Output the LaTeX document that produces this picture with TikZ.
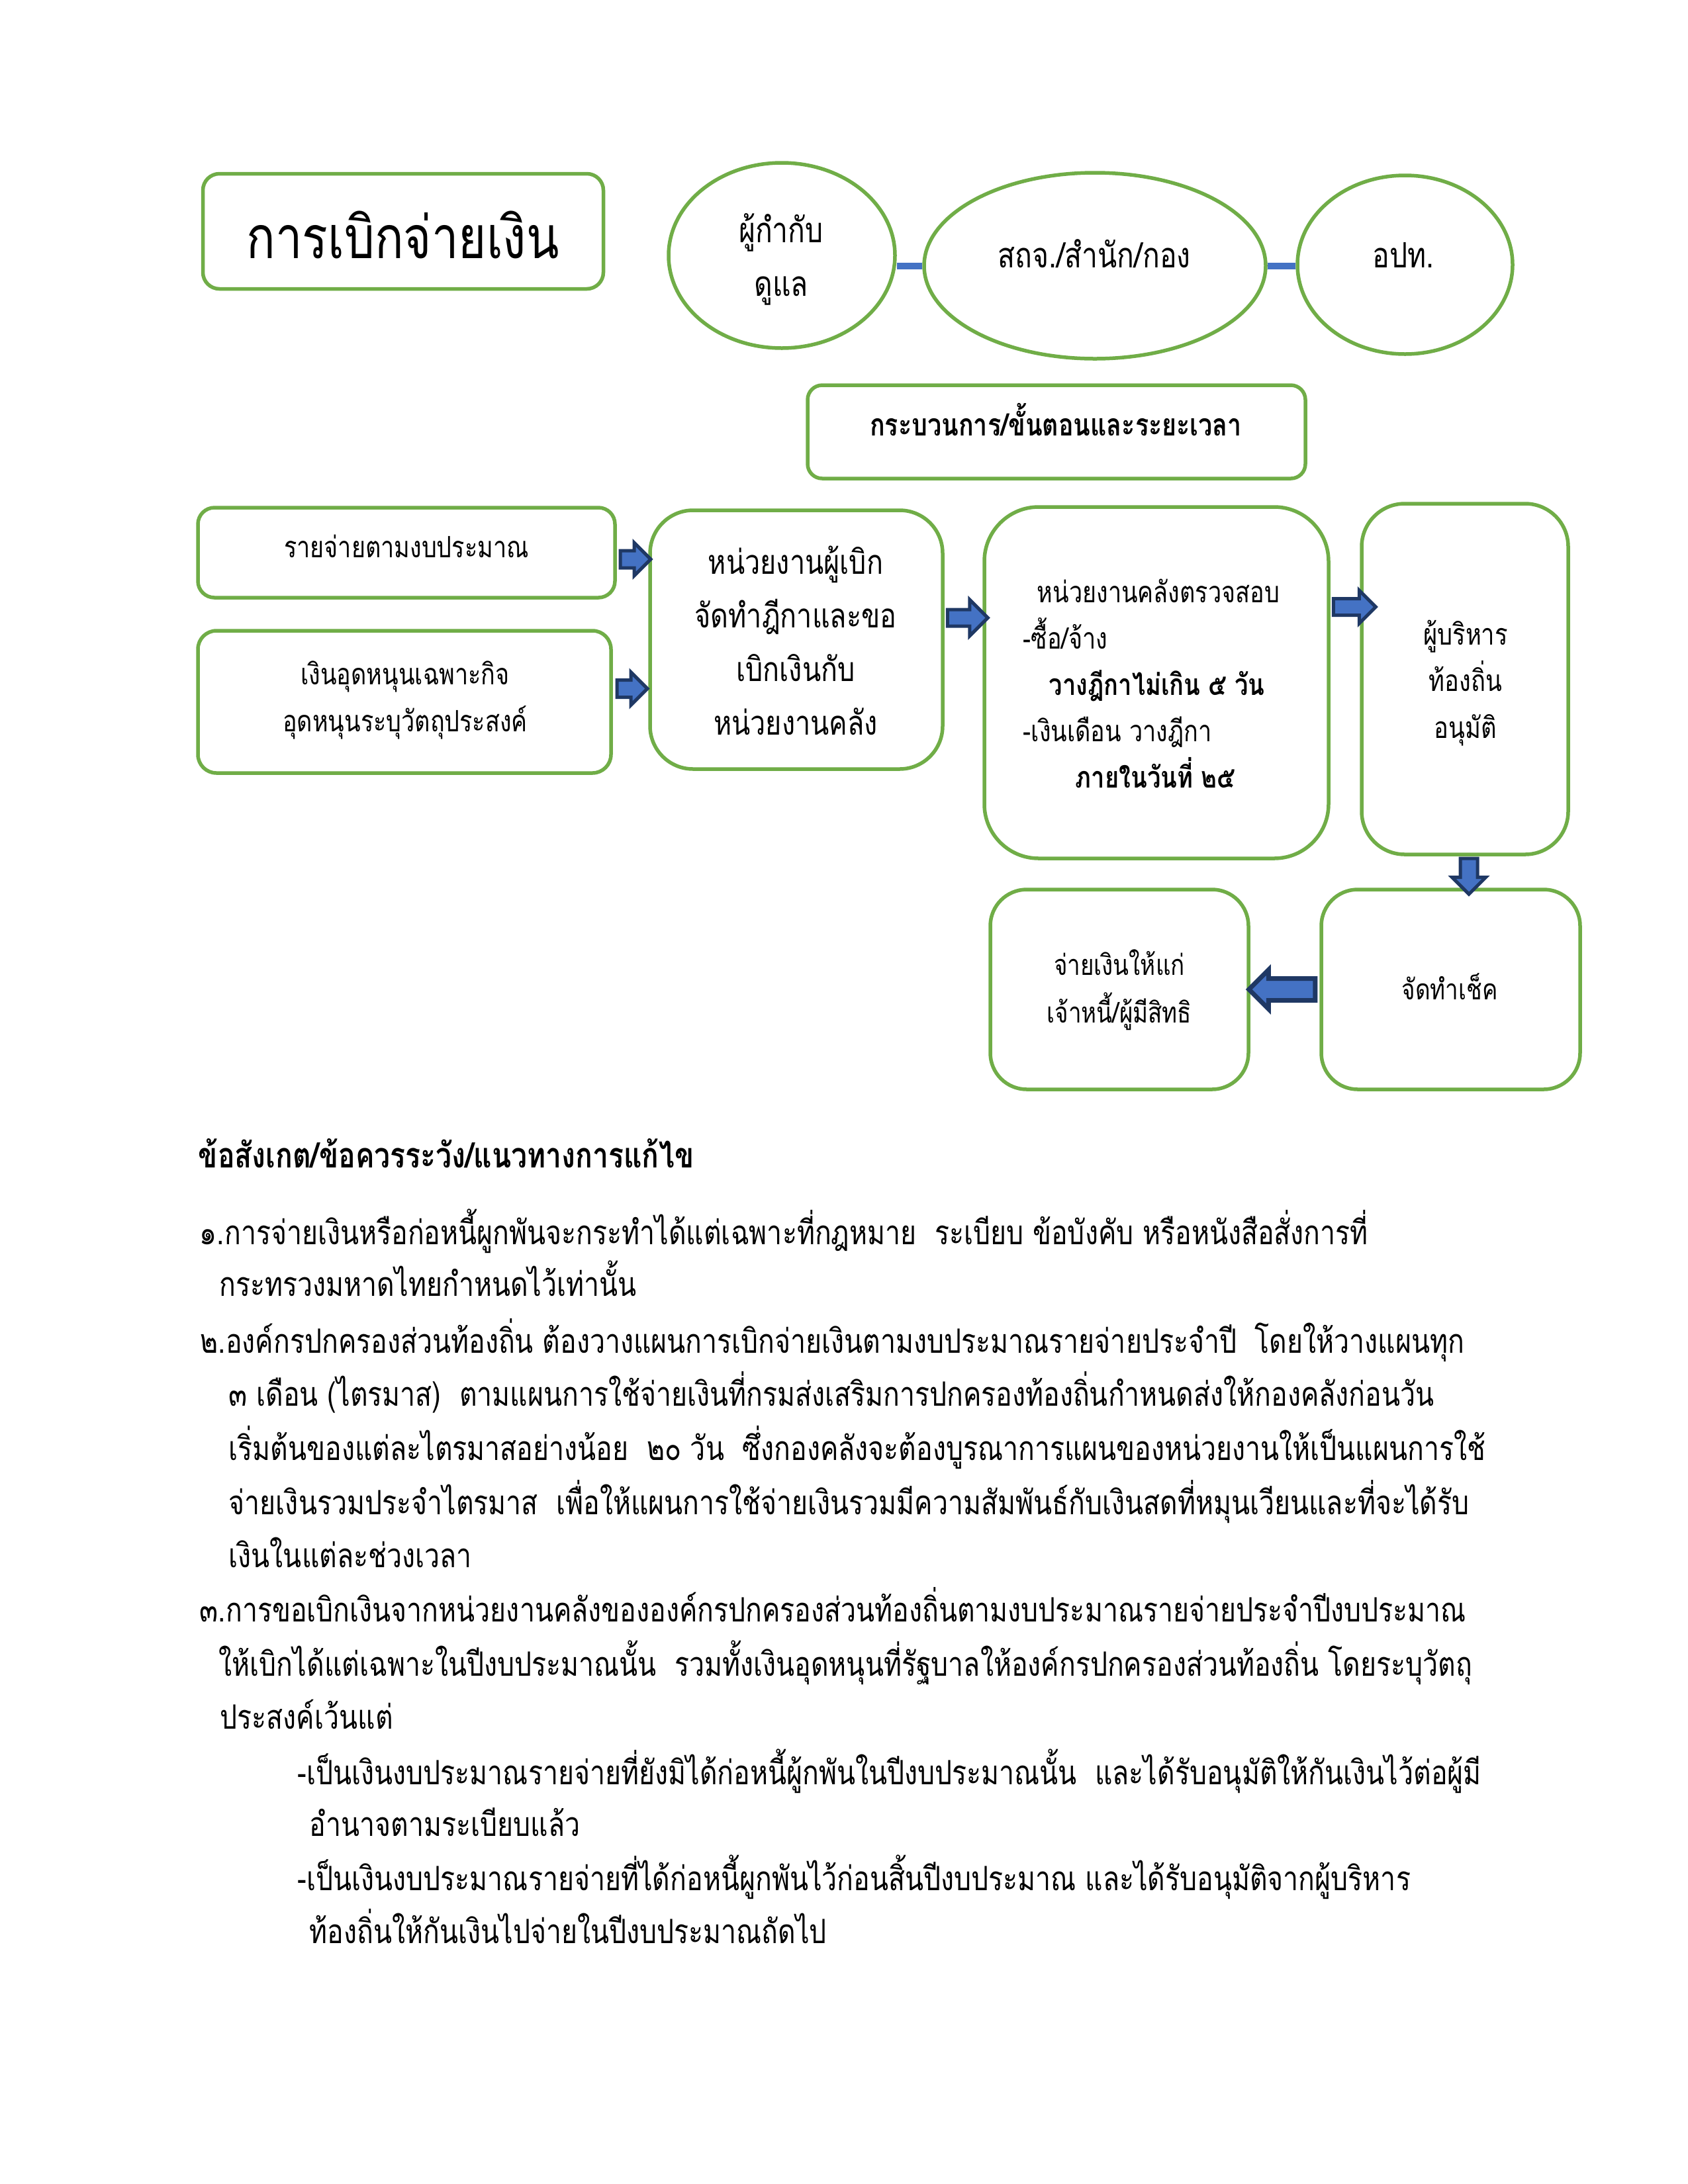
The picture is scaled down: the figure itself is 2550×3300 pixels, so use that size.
\documentclass[tikz,border=0pt]{standalone}
\usepackage{fontspec}
\setmainfont[Script=Thai,FakeStretch=0.81]{Loma}
\usetikzlibrary{shapes.arrows,shapes.geometric,calc}
\definecolor{grn}{HTML}{70AD47}
\definecolor{ablue}{HTML}{4472C4}
\definecolor{anavy}{HTML}{1F3864}
\newcommand\pxl[1]{#1*0.2409pt}
\tikzset{
  gbox/.style={draw=grn, line width=\pxl{5.5}, fill=white, inner sep=0pt},
  gell/.style={ellipse, draw=grn, line width=\pxl{5.5}, fill=white, inner sep=0pt},
  bar/.style={draw=ablue, line width=\pxl{10}},
  barrow/.style={single arrow, draw=anavy, fill=ablue, line width=\pxl{5}, inner xsep=0pt, single arrow tip angle=90},
  tbody/.style={font=\fontsize{12.2}{19.5}\selectfont, inner sep=0pt, anchor=base west},
  tbodyb/.style={font=\fontsize{12.7}{19.5}\selectfont\bfseries, inner sep=0pt, anchor=base west},
  tbig/.style={font=\fontsize{12.7}{19.3}\selectfont, inner sep=0pt, anchor=base, align=center},
  tbox/.style={font=\fontsize{10.7}{16.9}\selectfont, inner sep=0pt, anchor=base, align=center},
  tboxl/.style={font=\fontsize{10.7}{16}\selectfont, inner sep=0pt, anchor=base west},
  tboxb/.style={font=\fontsize{10.8}{16}\selectfont\bfseries, inner sep=0pt, anchor=base west},
}
\begin{document}
\begin{tikzpicture}[x=0.2409pt,y=-0.2409pt]
\fill[white] (0,0) rectangle (2550,3300);
\path[use as bounding box] (0,0) rectangle (2550,3300);

% top row
\node[gbox, rounded corners=\pxl{25}, minimum width=\pxl{605}, minimum height=\pxl{174}] (title) at (609,349.5) {};
\node[font=\fontsize{21.5}{26}\selectfont, inner sep=0pt, anchor=base] (titlet) at (608.5,390) {การเบิกจ่ายเงิน};

\node[gell, minimum width=\pxl{342}, minimum height=\pxl{280}] (e1) at (1181,386) {};
\node[gell, minimum width=\pxl{516}, minimum height=\pxl{281}] (e2) at (1654,401.5) {};
\node[gell, minimum width=\pxl{325}, minimum height=\pxl{270}] (e3) at (2122.5,400) {};
\draw[bar] (e2.west -| e1.east) -- (e2.west);
\draw[bar] (e2.east) -- (e2.east -| e3.west);
\node[tbig] (e1t) at (1180,447) {ผู้กำกับ\\ดูแล};
\node[tbig] (e2t) at (1653,404) {สถจ./สำนัก/กอง};
\node[tbig] (e3t) at (2120,404) {อปท.};

\node[gbox, rounded corners=\pxl{22}, minimum width=\pxl{752}, minimum height=\pxl{141}] (proc) at (1596,652.5) {};
\node[font=\fontsize{11.2}{16}\selectfont\bfseries, inner sep=0pt, anchor=base] (proct) at (1595,658) {กระบวนการ/ขั้นตอนและระยะเวลา};

% flow boxes
\node[gbox, rounded corners=\pxl{25}, minimum width=\pxl{630}, minimum height=\pxl{136}] (b1) at (614,835) {};
\node[gbox, rounded corners=\pxl{28}, minimum width=\pxl{624}, minimum height=\pxl{215}] (b2) at (611,1060.5) {};
\node[gbox, rounded corners=\pxl{65}, minimum width=\pxl{442}, minimum height=\pxl{391}] (b3) at (1203,966.5) {};
\node[gbox, rounded corners=\pxl{82}, minimum width=\pxl{520}, minimum height=\pxl{531}] (b4) at (1747,1031.5) {};
\node[gbox, rounded corners=\pxl{65}, minimum width=\pxl{312}, minimum height=\pxl{530}] (b5) at (2213,1026) {};
\node[gbox, rounded corners=\pxl{55}, minimum width=\pxl{390}, minimum height=\pxl{302}] (b6) at (1691,1495) {};
\node[gbox, rounded corners=\pxl{55}, minimum width=\pxl{391}, minimum height=\pxl{302}] (b7) at (2191.5,1495) {};

\node[tbox] (b1t) at (614,842) {รายจ่ายตามงบประมาณ};
\node[tbox] (b2t) at (612,1105) {เงินอุดหนุนเฉพาะกิจ\\อุดหนุนระบุวัตถุประสงค์};
\node[tbig, font=\fontsize{12.3}{19.5}\selectfont] (b3t) at (1202,1110) {หน่วยงานผู้เบิก\\จัดทำฎีกาและขอ\\เบิกเงินกับ\\หน่วยงานคลัง};
\node[tboxl] (b4t1) at (1566,910) {หน่วยงานคลังตรวจสอบ};
\node[tboxl] (b4t2) at (1545,980) {-ซื้อ/จ้าง};
\node[tboxb] (b4t3) at (1584,1050) {วางฎีกาไม่เกิน ๕ วัน};
\node[tboxl] (b4t4) at (1545,1120) {-เงินเดือน วางฎีกา};
\node[tboxb] (b4t5) at (1624,1190) {ภายในวันที่ ๒๕};
\node[tbox, font=\fontsize{10.8}{16.9}\selectfont] (b5t) at (2214,1115) {ผู้บริหาร\\ท้องถิ่น\\อนุมัติ};
\node[tbox, font=\fontsize{10.4}{17.3}\selectfont] (b6t) at (1691,1545) {จ่ายเงินให้แก่\\เจ้าหนี้/ผู้มีสิทธิ};
\node[tbox, font=\fontsize{10.4}{16}\selectfont] (b7t) at (2190,1510) {จัดทำเช็ค};

% block arrows
\node[barrow, minimum height=\pxl{46}, inner ysep=\pxl{10.5}, single arrow head extend=\pxl{12}] (a1) at ($(b1.east)!0.5!(b1.east -| b3.west)+(-2,10)$) {};
\node[barrow, minimum height=\pxl{46}, inner ysep=\pxl{10.5}, single arrow head extend=\pxl{12}] (a2) at ($(b2.east)!0.5!(b2.east -| b3.west)+(-4,-20)$) {};
\node[barrow, minimum height=\pxl{61}, inner ysep=\pxl{10}, single arrow head extend=\pxl{15}] (a3) at ($(b3.east)!0.5!(b3.east -| b4.west)+(0,-33)$) {};
\node[barrow, minimum height=\pxl{64}, inner ysep=\pxl{10}, single arrow head extend=\pxl{12.5}] (a4) at ($(b4.east)!0.5!(b4.east -| b5.west)+(8,-114.5)$) {};
\node[barrow, minimum height=\pxl{54}, inner ysep=\pxl{10.5}, single arrow head extend=\pxl{12.5}, rotate=-90] (a5) at ($(b5.south)!0.5!(b5.south |- b7.north)+(6,0)$) {};
\node[barrow, minimum height=\pxl{100}, inner ysep=\pxl{13}, single arrow head extend=\pxl{13}, line width=\pxl{7}, rotate=180] (a6) at ($(b6.east)!0.5!(b7.west)+(4,0)$) {};

% notes
\node[tbodyb] (h) at (299,1764) {ข้อสังเกต/ข้อควรระวัง/แนวทางการแก้ไข};
\node[tbody] (l1) at (301,1880) {๑.การจ่ายเงินหรือก่อหนี้ผูกพันจะกระทำได้แต่เฉพาะที่กฎหมาย\ \ ระเบียบ ข้อบังคับ หรือหนังสือสั่งการที่};
\node[tbody] (l2) at (331,1958) {กระทรวงมหาดไทยกำหนดไว้เท่านั้น};
\node[tbody] (l3) at (302,2044) {๒.องค์กรปกครองส่วนท้องถิ่น ต้องวางแผนการเบิกจ่ายเงินตามงบประมาณรายจ่ายประจำปี\ \ โดยให้วางแผนทุก};
\node[tbody] (l4) at (345,2124) {๓ เดือน (ไตรมาส)\ \ ตามแผนการใช้จ่ายเงินที่กรมส่งเสริมการปกครองท้องถิ่นกำหนดส่งให้กองคลังก่อนวัน};
\node[tbody] (l5) at (345,2206) {เริ่มต้นของแต่ละไตรมาสอย่างน้อย\ \ ๒๐ วัน\ \ ซึ่งกองคลังจะต้องบูรณาการแผนของหน่วยงานให้เป็นแผนการใช้};
\node[tbody] (l6) at (345,2288) {จ่ายเงินรวมประจำไตรมาส\ \ เพื่อให้แผนการใช้จ่ายเงินรวมมีความสัมพันธ์กับเงินสดที่หมุนเวียนและที่จะได้รับ};
\node[tbody] (l7) at (345,2368) {เงินในแต่ละช่วงเวลา};
\node[tbody] (l8) at (301,2450) {๓.การขอเบิกเงินจากหน่วยงานคลังขององค์กรปกครองส่วนท้องถิ่นตามงบประมาณรายจ่ายประจำปีงบประมาณ};
\node[tbody] (l9) at (330,2532) {ให้เบิกได้แต่เฉพาะในปีงบประมาณนั้น\ \ รวมทั้งเงินอุดหนุนที่รัฐบาลให้องค์กรปกครองส่วนท้องถิ่น โดยระบุวัตถุ};
\node[tbody] (l10) at (332,2612) {ประสงค์เว้นแต่};
\node[tbody] (l11) at (449,2696) {-เป็นเงินงบประมาณรายจ่ายที่ยังมิได้ก่อหนี้ผู้กพันในปีงบประมาณนั้น\ \ และได้รับอนุมัติให้กันเงินไว้ต่อผู้มี};
\node[tbody] (l12) at (467,2774) {อำนาจตามระเบียบแล้ว};
\node[tbody] (l13) at (449,2856) {-เป็นเงินงบประมาณรายจ่ายที่ได้ก่อหนี้ผูกพันไว้ก่อนสิ้นปีงบประมาณ และได้รับอนุมัติจากผู้บริหาร};
\node[tbody] (l14) at (467,2936) {ท้องถิ่นให้กันเงินไปจ่ายในปีงบประมาณถัดไป};
\end{tikzpicture}
\end{document}
